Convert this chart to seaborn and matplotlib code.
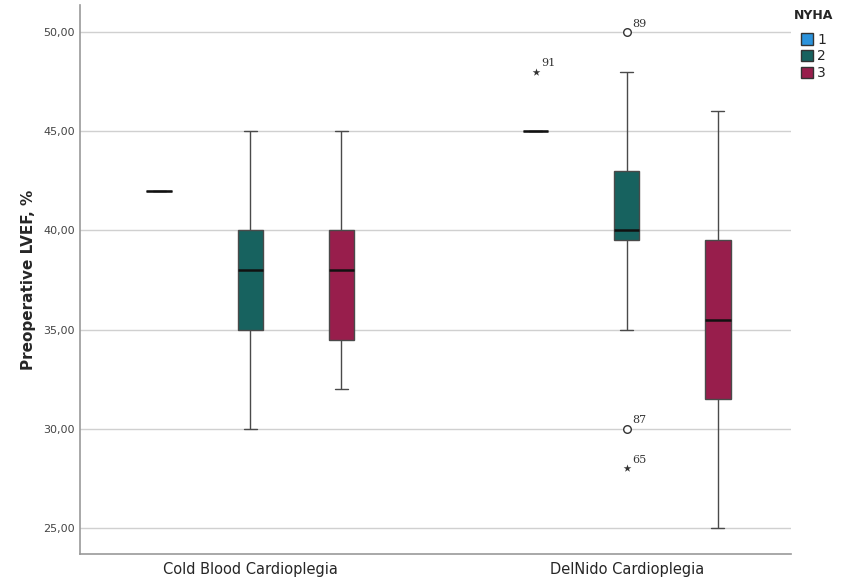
import numpy as np
import pandas as pd
import matplotlib
matplotlib.use("Agg")
import matplotlib.pyplot as plt
import seaborn as sns
from matplotlib.patches import Patch

# ---- data ----
groups = ["Cold Blood Cardioplegia", "DelNido Cardioplegia"]
nyha_levels = ["1", "2", "3"]
cold_1 = [42, 42, 42]
cold_2 = [30, 35, 35, 38, 40, 40, 45]
cold_3 = [32, 33, 34.5, 36, 38, 39, 40, 42, 45]
delnido_1 = [45, 45, 45, 45, 48]
delnido_2 = [28, 30, 35, 39.5, 39.5, 40, 40, 41, 42, 43, 45, 48, 50]
delnido_3 = [25, 28, 31.5, 33, 35.5, 37, 39.5, 42, 46]
# outliers: (group, nyha, value, case id, extreme?)
outlier_group = ["DelNido Cardioplegia"] * 4
outlier_nyha = ["1", "2", "2", "2"]
outlier_value = [48, 50, 30, 28]
outlier_case = ["91", "89", "87", "65"]
outlier_extreme = [True, False, False, True]

colors = {"1": "#2b93dc", "2": "#17625f", "3": "#981e4c"}

rows = []
for g, lvl, vals in [(groups[0], "1", cold_1), (groups[0], "2", cold_2), (groups[0], "3", cold_3),
                     (groups[1], "1", delnido_1), (groups[1], "2", delnido_2), (groups[1], "3", delnido_3)]:
    for v in vals:
        rows.append({"group": g, "NYHA": lvl, "LVEF": v})
df = pd.DataFrame(rows)

sns.set_style("white")
plt.rcParams["font.family"] = ["DejaVu Sans"]

fig = plt.figure(figsize=(8.44, 5.77), dpi=100)
ax = fig.add_axes([0.095, 0.04, 0.842, 0.951])

width = 0.726
ax_hue_step = width / 3
sns.boxplot(data=df, x="group", y="LVEF", hue="NYHA", order=groups, hue_order=nyha_levels,
            palette=colors, width=width, gap=0.72, showfliers=False, whis=1.5,
            linecolor="#4a4a4a", linewidth=1.0, saturation=1,
            medianprops=dict(color="#111111", linewidth=1.8),
            capprops=dict(color="#4a4a4a"), whiskerprops=dict(color="#4a4a4a"),
            legend=False, ax=ax)

# outliers
for g, lvl, v, cid, ext in zip(outlier_group, outlier_nyha, outlier_value, outlier_case, outlier_extreme):
    xpos = groups.index(g) + (nyha_levels.index(lvl) - 1) * ax_hue_step
    if ext:
        ax.scatter([xpos], [v], marker="*", s=34, color="#333333", zorder=5, linewidths=0)
    else:
        ax.scatter([xpos], [v], marker="o", s=30, facecolors="white", edgecolors="#333333",
                   linewidths=1.0, zorder=5)
    ax.annotate(cid, (xpos, v), xytext=(4, 4), textcoords="offset points",
                fontsize=8, color="#333333", family="DejaVu Serif")

ax.set_xlim(-0.452, 1.436)
ax.set_ylim(23.69, 51.36)
ax.set_yticks([25, 30, 35, 40, 45, 50])
ax.set_yticklabels([f"{t:.2f}".replace(".", ",") for t in [25, 30, 35, 40, 45, 50]],
                   fontsize=8, color="#444444")
ax.yaxis.grid(True, color="#d0d0d0", linewidth=1)
ax.set_axisbelow(True)
ax.tick_params(axis="y", length=2, color="#bbbbbb", pad=2)
ax.tick_params(axis="x", length=0, labelsize=10.5, pad=6)
ax.set_xlabel("")
ax.set_ylabel("Preoperative LVEF, %", fontsize=11, fontweight="bold", labelpad=5)
for s in ["top", "right"]:
    ax.spines[s].set_visible(False)
for s in ["left", "bottom"]:
    ax.spines[s].set_color("#999999")
    ax.spines[s].set_linewidth(1.2)

handles = [Patch(facecolor=colors[l], edgecolor="#333333", label=l) for l in nyha_levels]
leg = fig.legend(handles=handles, title="NYHA", loc="upper left", bbox_to_anchor=(0.937, 0.99),
                 frameon=False, fontsize=10, title_fontproperties={"weight": "bold", "size": 9},
                 handlelength=0.9, handleheight=0.9, handletextpad=0.3, labelspacing=0.2,
                 borderaxespad=0, borderpad=0.2)
leg._legend_box.sep = 8

fig.savefig("out.png", dpi=100)
